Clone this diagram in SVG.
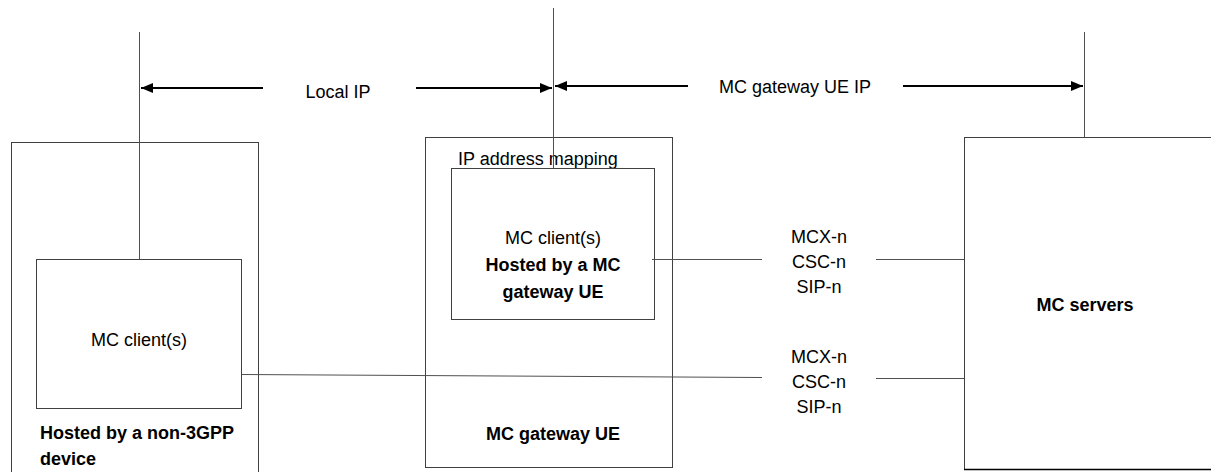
<svg xmlns="http://www.w3.org/2000/svg" width="1211" height="472" viewBox="0 0 1211 472">
<style>
.box{fill:#fff;stroke:#404040;stroke-width:1}
.ln{fill:none;stroke:#505050;stroke-width:1}
.arr{fill:none;stroke:#000;stroke-width:2}
text{font-family:"Liberation Sans",Arial,sans-serif;font-size:18px;fill:#000}
.c{text-anchor:middle}
.b{font-weight:bold}
</style>
<defs>
<marker id="ah" viewBox="0 0 12 10" refX="12" refY="5" markerWidth="12" markerHeight="10" markerUnits="userSpaceOnUse" orient="auto">
<path d="M0,0 L12,5 L0,10 Z" fill="#000"/>
</marker>
</defs>
<rect width="1211" height="472" fill="#fff"/>
<g id="non3gpp-device">
<rect class="box" x="11.5" y="142.5" width="247" height="340"/>
<text class="b" x="40" y="439">Hosted by a non-3GPP</text>
<text class="b" x="40" y="465">device</text>
</g>
<g id="mc-client-left">
<rect class="box" x="36.5" y="259.5" width="205" height="149"/>
<text class="c" x="139" y="346">MC client(s)</text>
</g>
<g id="mc-gateway-ue">
<rect class="box" x="425.5" y="137.5" width="247" height="330"/>
<text class="c" x="538" y="165">IP address mapping</text>
<text class="c b" x="553" y="440">MC gateway UE</text>
</g>
<g id="mc-client-gw">
<rect class="box" x="451.5" y="168.5" width="203" height="151"/>
<text class="c" x="553" y="244">MC client(s)</text>
<text class="c b" x="553" y="271">Hosted by a MC</text>
<text class="c b" x="553" y="298">gateway UE</text>
</g>
<g id="mc-servers">
<rect class="box" x="964.5" y="137.5" width="260" height="332"/>
<line x1="964" y1="469.5" x2="1211" y2="469.5" stroke="#000" stroke-width="1.5"/>
<text class="c b" x="1085" y="311">MC servers</text>
</g>
<g id="connectors">
<line class="ln" x1="139.5" y1="32" x2="139.5" y2="259"/>
<line class="ln" x1="553.5" y1="8" x2="553.5" y2="168"/>
<line class="ln" x1="1084.5" y1="32" x2="1084.5" y2="137"/>
<line class="arr" x1="263" y1="88" x2="141" y2="88" marker-end="url(#ah)"/>
<line class="arr" x1="416" y1="88" x2="552" y2="88" marker-end="url(#ah)"/>
<text class="c" x="338" y="98">Local IP</text>
<line class="arr" x1="688" y1="86" x2="555" y2="86" marker-end="url(#ah)"/>
<line class="arr" x1="903" y1="86" x2="1083" y2="86" marker-end="url(#ah)"/>
<text class="c" x="795" y="93">MC gateway UE IP</text>
<line class="ln" x1="652" y1="259.5" x2="762" y2="259.5"/>
<line class="ln" x1="876" y1="259.5" x2="964" y2="259.5"/>
<line class="ln" x1="242" y1="374.5" x2="762" y2="377.5"/>
<line class="ln" x1="876" y1="378.5" x2="964" y2="378.5"/>
<text class="c" x="819" y="243">MCX-n</text>
<text class="c" x="819" y="268">CSC-n</text>
<text class="c" x="819" y="293">SIP-n</text>
<text class="c" x="819" y="363">MCX-n</text>
<text class="c" x="819" y="388">CSC-n</text>
<text class="c" x="819" y="413">SIP-n</text>
</g>
</svg>
